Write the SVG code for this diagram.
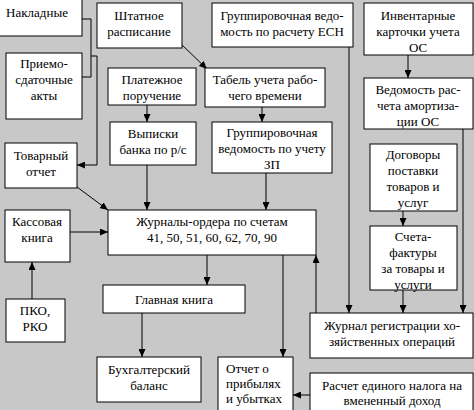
<svg xmlns="http://www.w3.org/2000/svg" width="474" height="410" viewBox="0 0 474 410">
<style>
.b{fill:#fff;stroke:#000;stroke-width:1}
text{font-family:"Liberation Serif","Times New Roman",serif;font-size:13px;fill:#000;text-anchor:middle}
.l{text-anchor:start}
.c{fill:none;stroke:#000;stroke-width:1}
</style>
<defs>
<marker id="a" markerWidth="8" markerHeight="7" refX="8" refY="3.5" orient="auto" markerUnits="userSpaceOnUse">
<path d="M0,0 L8,3.5 L0,7 z" fill="#000"/>
</marker>
</defs>
<rect width="474" height="410" fill="#c8c8c8"/>
<g id="connectors">
<path class="c" d="M82,19 H91 V77 H82"/>
<path class="c" d="M91,56 H97 V165 H77" marker-end="url(#a)"/>
<path class="c" d="M180,43 L207,69" marker-end="url(#a)"/>
<path class="c" d="M147,105 V122" marker-end="url(#a)"/>
<path class="c" d="M147,165 V210" marker-end="url(#a)"/>
<path class="c" d="M262,107 V122" marker-end="url(#a)"/>
<path class="c" d="M266,173 V210" marker-end="url(#a)"/>
<path class="c" d="M408,55 V78" marker-end="url(#a)"/>
<path class="c" d="M77,187 L108,210" marker-end="url(#a)"/>
<path class="c" d="M70,232 H108" marker-end="url(#a)"/>
<path class="c" d="M32,299 V262" marker-end="url(#a)"/>
<path class="c" d="M207,255 V285" marker-end="url(#a)"/>
<path class="c" d="M142,313 V357" marker-end="url(#a)"/>
<path class="c" d="M283,255 V357" marker-end="url(#a)"/>
<path class="c" d="M316,313 V255" marker-end="url(#a)"/>
<path class="c" d="M349,47 V313" marker-end="url(#a)"/>
<path class="c" d="M463,129 V313" marker-end="url(#a)"/>
<path class="c" d="M403,211 V226" marker-end="url(#a)"/>
<path class="c" d="M403,290 V313" marker-end="url(#a)"/>
<path class="c" d="M310,395 H293" marker-end="url(#a)"/>
</g>
<g id="nakladnye"><rect class="b" x="-1" y="-1" width="83" height="37"/><text x="37" y="17">Накладные</text></g>
<g id="priemo"><rect class="b" x="6" y="53" width="76" height="66"/><text x="44" y="68">Приемо-</text><text x="44" y="84">сдаточные</text><text x="44" y="100">акты</text></g>
<g id="shtatnoe"><rect class="b" x="97" y="3" width="85" height="45"/><text x="139" y="20">Штатное</text><text x="139" y="36">расписание</text></g>
<g id="esn"><rect class="b" x="212" y="3" width="141" height="44"/><text x="282" y="20">Группировочная ведо-</text><text x="282" y="36">мость по расчету ЕСН</text></g>
<g id="inv"><rect class="b" x="364" y="3" width="109" height="52"/><text x="418" y="20">Инвентарные</text><text x="418" y="36">карточки учета</text><text x="418" y="52">ОС</text></g>
<g id="amort"><rect class="b" x="364" y="78" width="109" height="51"/><text x="418" y="94">Ведомость рас-</text><text x="418" y="110">чета амортиза-</text><text x="418" y="126">ции ОС</text></g>
<g id="platezh"><rect class="b" x="108" y="68" width="88" height="37"/><text x="152" y="84">Платежное</text><text x="152" y="100">поручение</text></g>
<g id="vypiski"><rect class="b" x="110" y="122" width="86" height="43"/><text x="153" y="138">Выписки</text><text x="153" y="154">банка по р/с</text></g>
<g id="tabel"><rect class="b" x="205" y="68" width="120" height="39"/><text x="265" y="84">Табель учета рабо-</text><text x="265" y="100">чего времени</text></g>
<g id="zp"><rect class="b" x="212" y="122" width="120" height="51"/><text x="272" y="137">Группировочная</text><text x="272" y="153">ведомость по учету</text><text x="272" y="169">ЗП</text></g>
<g id="tovarny"><rect class="b" x="5" y="143" width="72" height="45"/><text x="41" y="160">Товарный</text><text x="41" y="176">отчет</text></g>
<g id="kassa"><rect class="b" x="5" y="210" width="65" height="52"/><text x="37" y="226">Кассовая</text><text x="37" y="242">книга</text></g>
<g id="zhurnaly"><rect class="b" x="108" y="210" width="208" height="45"/><text x="212" y="226">Журналы-ордера по счетам</text><text x="212" y="242">41, 50, 51, 60, 62, 70, 90</text></g>
<g id="pko"><rect class="b" x="6" y="299" width="59" height="43"/><text x="35" y="315">ПКО,</text><text x="35" y="331">РКО</text></g>
<g id="glavnaya"><rect class="b" x="103" y="285" width="142" height="28"/><text x="174" y="304">Главная книга</text></g>
<g id="balans"><rect class="b" x="97" y="357" width="104" height="45"/><text x="149" y="374">Бухгалтерский</text><text x="149" y="390">баланс</text></g>
<g id="otchet"><rect class="b" x="218" y="357" width="75" height="60"/><text class="l" x="226" y="373">Отчет о</text><text class="l" x="226" y="388">прибылях</text><text class="l" x="226" y="403">и убытках</text></g>
<g id="dogovory"><rect class="b" x="370" y="144" width="87" height="67"/><text x="413" y="159">Договоры</text><text x="413" y="175">поставки</text><text x="413" y="191">товаров и</text><text x="413" y="207">услуг</text></g>
<g id="scheta"><rect class="b" x="370" y="226" width="87" height="64"/><text x="413" y="241">Счета-</text><text x="413" y="257">фактуры</text><text x="413" y="273">за товары и</text><text x="413" y="289">услуги</text></g>
<g id="registr"><rect class="b" x="310" y="313" width="163" height="45"/><text x="392" y="330">Журнал регистрации хо-</text><text x="392" y="346">зяйственных операций</text></g>
<g id="envd"><rect class="b" x="310" y="373" width="163" height="45"/><text x="392" y="390">Расчет единого налога на</text><text x="392" y="405">вмененный доход</text></g>
</svg>
